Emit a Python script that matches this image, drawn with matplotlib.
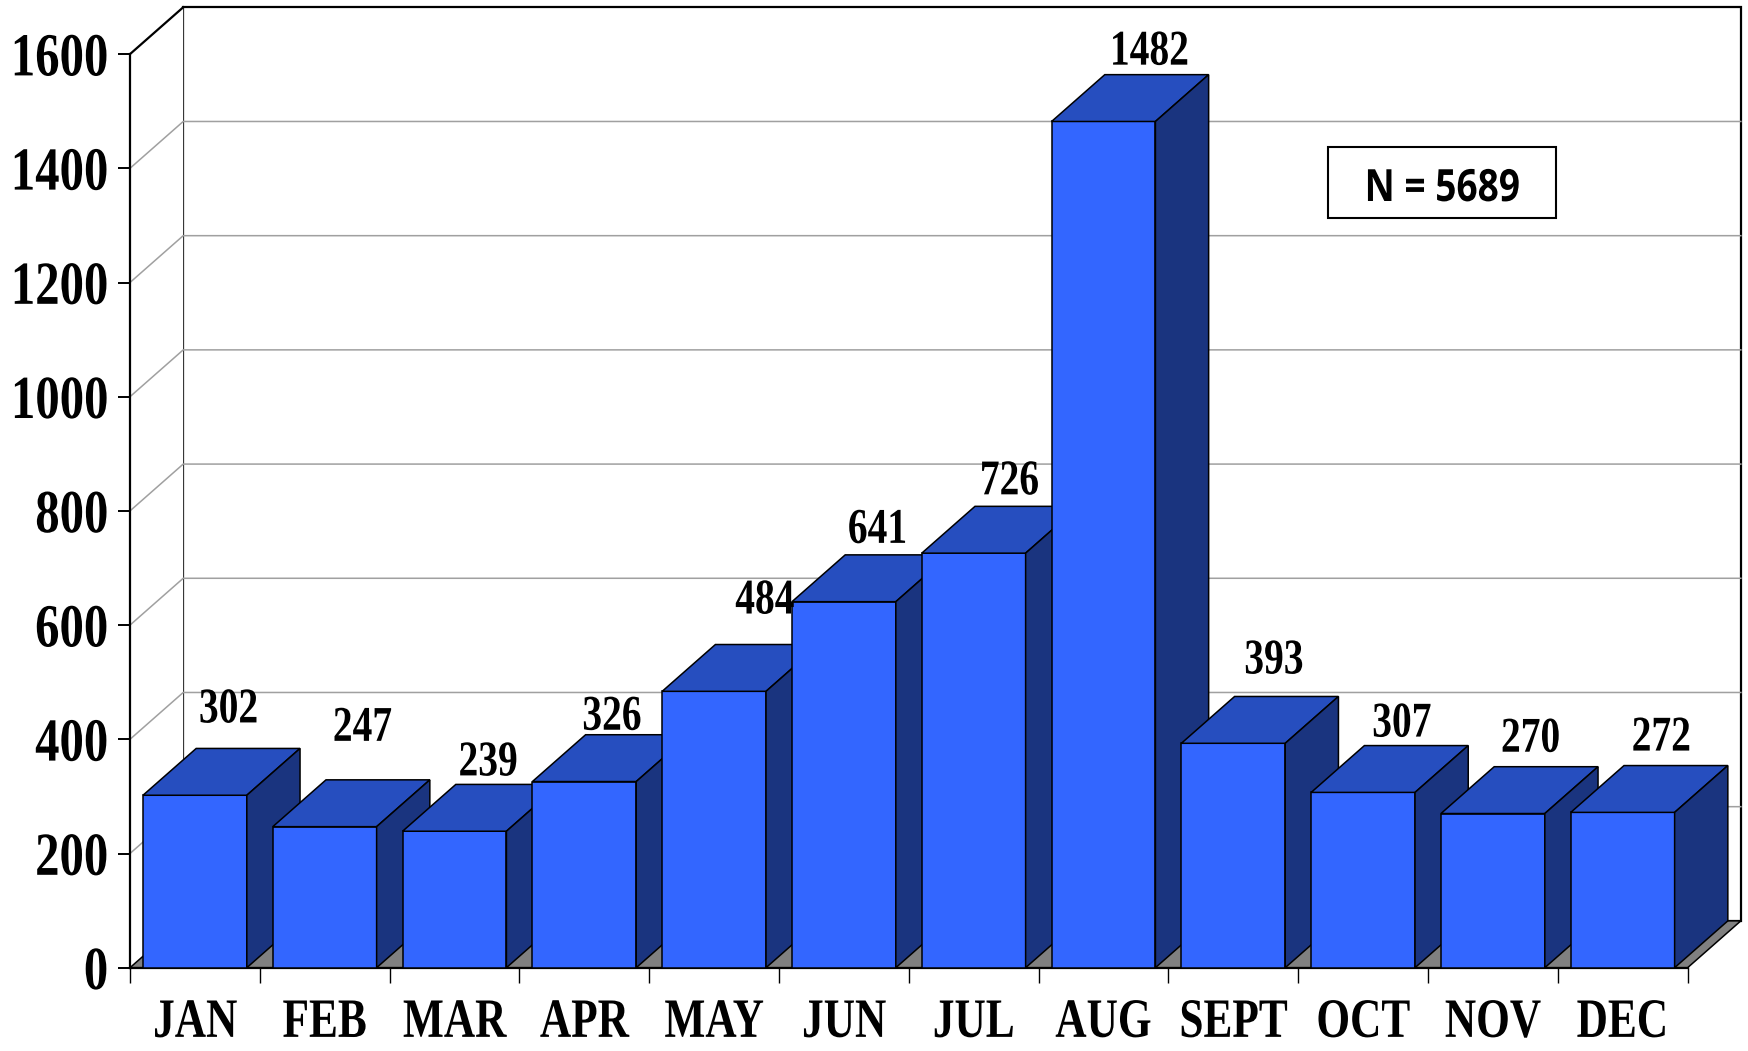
import matplotlib
matplotlib.use('Agg')
import matplotlib.pyplot as plt
import matplotlib.patheffects as pe
from matplotlib.patches import Polygon, Rectangle
from matplotlib.transforms import Affine2D
import numpy as np

# data
months = ['JAN', 'FEB', 'MAR', 'APR', 'MAY', 'JUN',
          'JUL', 'AUG', 'SEPT', 'OCT', 'NOV', 'DEC']
counts = [302, 247, 239, 326, 484, 641, 726, 1482, 393, 307, 270, 272]
y_ticks = [0, 200, 400, 600, 800, 1000, 1200, 1400, 1600]
total_label = 'N = 5689'

# hand nudges for the value labels (pixels, from the top face centre)
label_dx = [7, 11, 7, 1, 24, 7, 9, 19, 14, 12, 11, 12]
label_dy = [26, 39, 9, 5, 31, 12, 12, 10, 23, 9, 15, 15]

FRONT = '#3366FF'
TOP = '#264EBF'
SIDE = '#1A347F'
FLOOR = '#808080'
GRID = '#A0A0A0'

# depth of the fake 3D box, in data units
DX = 0.41
DY = 82
YMAX = 1600
NCAT = len(months)


class Squeeze(pe.AbstractPathEffect):
    """Rescale the glyphs (the original text is condensed/tall)."""

    def __init__(self, sx=0.8, sy=1.0, anchor='center'):
        super().__init__()
        self.sx = sx
        self.sy = sy
        self.anchor = anchor

    def draw_path(self, renderer, gc, tpath, affine, rgbFace=None):
        ext = tpath.get_extents()
        if self.anchor == 'right':
            cx = ext.x1
        elif self.anchor == 'left':
            cx = ext.x0
        else:
            cx = (ext.x0 + ext.x1) / 2
        cy = (ext.y0 + ext.y1) / 2
        pre = (Affine2D().translate(-cx, -cy)
               .scale(self.sx, self.sy).translate(cx, cy))
        renderer.draw_path(gc, tpath, pre + affine, rgbFace)


serif = {'family': 'Liberation Serif', 'weight': 'bold'}

fig = plt.figure(figsize=(17.48, 10.51), dpi=100)
ax = fig.add_axes([130 / 1748, (1051 - 967.7) / 1051, 1557.6 / 1748, 913.6 / 1051])
ax.set_xlim(0, NCAT)
ax.set_ylim(0, YMAX)
ax.patch.set_visible(False)

for s in ['top', 'right']:
    ax.spines[s].set_visible(False)
for s in ['left', 'bottom']:
    ax.spines[s].set_linewidth(1.6)
    ax.spines[s].set_zorder(2)

# back wall
ax.add_patch(Rectangle((DX, DY), NCAT, YMAX, facecolor='white', edgecolor='black',
                       linewidth=1.6, zorder=0.2, clip_on=False))
# left wall
ax.add_patch(Polygon([(0, 0), (DX, DY), (DX, YMAX + DY), (0, YMAX)], closed=True,
                     facecolor='white', edgecolor='none', zorder=0.2, clip_on=False))
ax.plot([0, DX], [YMAX, YMAX + DY], color='black', lw=1.6, zorder=0.5, clip_on=False)

# gridlines on both walls
for v in y_ticks[1:-1]:
    ax.plot([0, DX, NCAT + DX], [v, v + DY, v + DY], color=GRID, lw=1.1,
            zorder=0.4, clip_on=False)

# floor
ax.add_patch(Polygon([(0, 0), (NCAT, 0), (NCAT + DX, DY), (DX, DY)], closed=True,
                     facecolor=FLOOR, edgecolor='black', linewidth=1.1,
                     zorder=0.6, clip_on=False))

# bars: front faces via ax.bar, top and side faces as polygons
x = np.arange(NCAT) + 0.5
bw = 0.8
bars = ax.bar(x, counts, width=bw, color=FRONT, edgecolor='black', linewidth=1.1)
for i, (b, v) in enumerate(zip(bars, counts)):
    z = 5 + 3 * i
    b.set_zorder(z)
    x0, x1 = x[i] - bw / 2, x[i] + bw / 2
    top = Polygon([(x0, v), (x1, v), (x1 + DX, v + DY), (x0 + DX, v + DY)], closed=True,
                  facecolor=TOP, edgecolor='black', linewidth=1.1, zorder=z + 1,
                  clip_on=False, joinstyle='miter')
    side = Polygon([(x1, 0), (x1 + DX, DY), (x1 + DX, v + DY), (x1, v)], closed=True,
                   facecolor=SIDE, edgecolor='black', linewidth=1.1, zorder=z + 1,
                   clip_on=False, joinstyle='miter')
    ax.add_patch(top)
    ax.add_patch(side)

    ax.annotate(str(v), xy=(x[i] + DX / 2, v + DY),
                xytext=(label_dx[i] * 0.72, label_dy[i] * 0.72),
                textcoords='offset points', ha='center', va='baseline',
                fontsize=36, zorder=100, annotation_clip=False,
                path_effects=[Squeeze(0.79)], **serif)

# axes ticks
ax.set_yticks(y_ticks)
ax.set_yticklabels([str(t) for t in y_ticks], fontdict=serif, fontsize=39)
ax.tick_params(axis='y', direction='out', length=8.6, width=1.4, pad=7)
for lab in ax.get_yticklabels():
    lab.set_path_effects([Squeeze(0.9, 1.13, 'right')])

ax.set_xticks(np.arange(NCAT + 1))
ax.set_xticklabels([])
ax.set_xticks(x, minor=True)
ax.set_xticklabels(months, minor=True, fontdict=serif, fontsize=40)
ax.tick_params(axis='x', which='major', direction='out', length=10.8, width=1.0)
ax.tick_params(axis='x', which='minor', length=0, pad=21)
for lab in ax.get_xticklabels(minor=True):
    lab.set_path_effects([Squeeze(0.78)])

# N box
bx0 = (1328 - 130) / 1557.6
bx1 = (1556 - 130) / 1557.6
by0 = (967.7 - 218) / 913.6
by1 = (967.7 - 147) / 913.6
ax.add_patch(Rectangle((bx0, by0), bx1 - bx0, by1 - by0, transform=ax.transAxes,
                       facecolor='white', edgecolor='black', linewidth=1.5,
                       zorder=90, clip_on=False))
ax.text((bx0 + bx1) / 2, (967.7 - 201) / 913.6, total_label, transform=ax.transAxes,
        ha='center', va='baseline', fontsize=32, family='Open Sans', weight='bold',
        zorder=91, path_effects=[Squeeze(0.835)])

fig.savefig('out.png', dpi=100)
